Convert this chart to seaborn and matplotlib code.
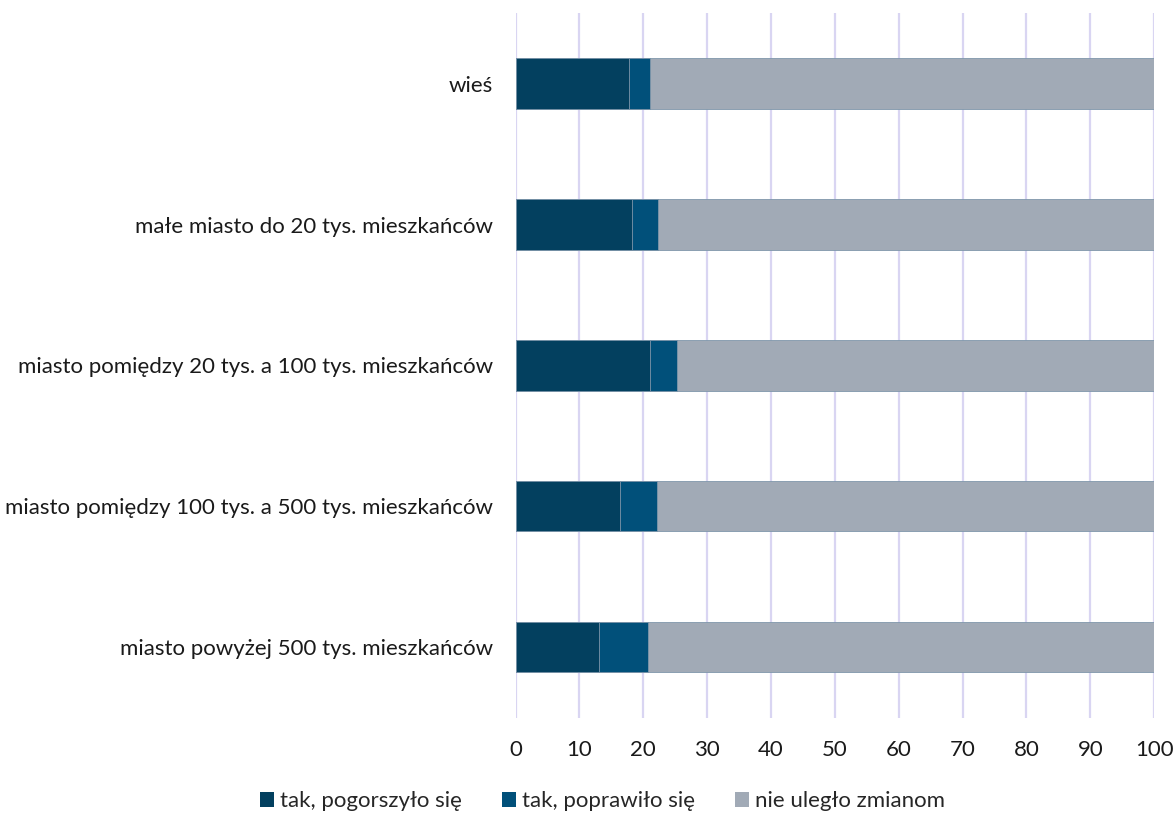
import matplotlib
matplotlib.use("Agg")
import matplotlib.pyplot as plt
import numpy as np
import pandas as pd
import seaborn as sns
from matplotlib.patches import Patch

categories = ["wieś",
              "małe miasto do 20 tys. mieszkańców",
              "miasto pomiędzy 20 tys. a 100 tys. mieszkańców",
              "miasto pomiędzy 100 tys. a 500 tys. mieszkańców",
              "miasto powyżej 500 tys. mieszkańców"]
pogorszylo = [17.8, 18.3, 21.1, 16.3, 13.0]
poprawilo = [3.3, 4.0, 4.2, 5.9, 7.8]
bez_zmian = [78.9, 77.7, 74.7, 77.8, 79.2]
series_names = ["tak, pogorszyło się", "tak, poprawiło się", "nie uległo zmianom"]
xticks = [0, 10, 20, 30, 40, 50, 60, 70, 80, 90, 100]

colors = ["#03405F", "#01507A", "#A1AAB6"]

sns.set_style("white")
plt.rcParams["font.family"] = ["Lato", "DejaVu Sans"]
plt.rcParams["font.size"] = 16

df = pd.DataFrame({"kat": categories,
                   "a": pogorszylo,
                   "b": poprawilo,
                   "c": bez_zmian})
df["ab"] = df["a"] + df["b"]
df["abc"] = df["ab"] + df["c"]

fig = plt.figure(figsize=(11.76, 8.14), dpi=100)
ax = fig.add_axes([0.4384, 0.118, 0.543, 0.866])

ax.grid(axis="x", color="#D9D5F2", linewidth=1.6, zorder=0)
ax.set_axisbelow(True)

# stacked look: draw cumulative totals on top of each other
for col, c in zip(["abc", "ab", "a"], colors[::-1]):
    sns.barplot(data=df, y="kat", x=col, color=c, orient="h", width=0.355,
                saturation=1, edgecolor="#7f97ab", linewidth=0.6, ax=ax)

ax.set_xlim(0, 100)
ax.set_ylim(4.5, -0.5)
ax.set_xticks(xticks)
ax.set_xlabel("")
ax.set_ylabel("")
for s in ax.spines.values():
    s.set_visible(False)
ax.tick_params(axis="both", length=0, labelsize=16, colors="#1a1a1a")
ax.tick_params(axis="y", pad=16)
ax.tick_params(axis="x", pad=16)

handles = [Patch(facecolor=c, edgecolor="none") for c in colors]
fig.legend(handles, series_names, loc="lower center", ncol=3, frameon=False,
           bbox_to_anchor=(0.512, -0.021), fontsize=16, handlelength=0.65,
           handleheight=0.65, handletextpad=0.25, columnspacing=1.8)

fig.savefig("out.png", dpi=100)
